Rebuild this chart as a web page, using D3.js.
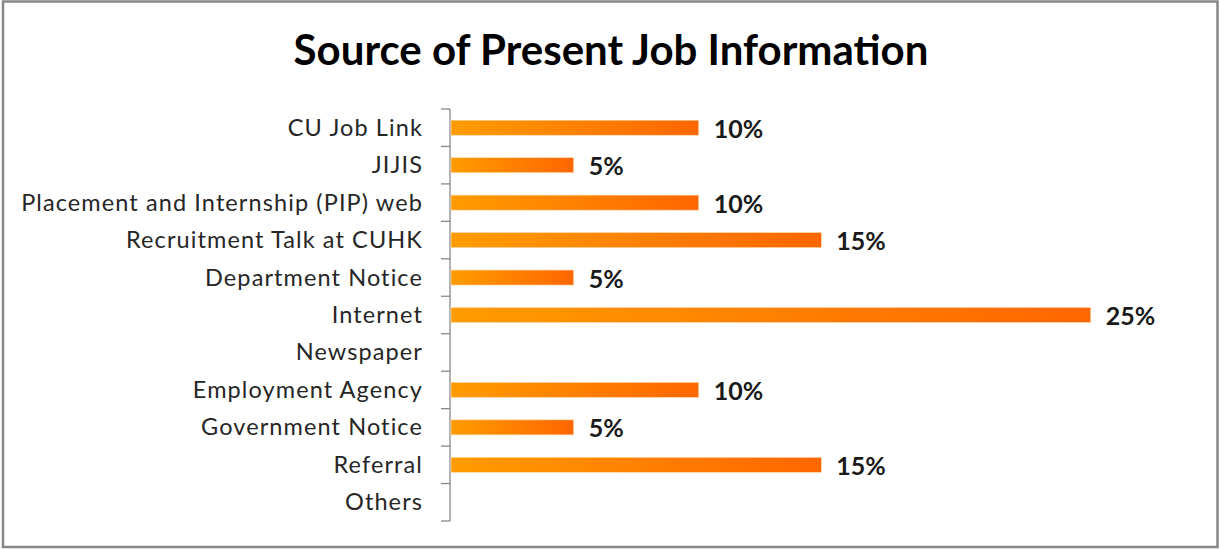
<!DOCTYPE html>
<html><head><meta charset="utf-8">
<script src="https://cdn.jsdelivr.net/npm/d3@7"></script>
<style>html,body{margin:0;padding:0;background:#fff;}svg{display:block;}</style>
</head><body>
<svg id="c" width="1220" height="549"></svg>
<script>
const categories = ["CU Job Link","JIJIS","Placement and Internship (PIP) web","Recruitment Talk at CUHK","Department Notice","Internet","Newspaper","Employment Agency","Government Notice","Referral","Others"];
const values = [10.3,5.1,10.3,15.4,5.1,26.6,0,10.3,5.1,15.4,0];
const valueLabels = ["10%","5%","10%","15%","5%","25%","","10%","5%","15%",""];
const title = "Source of Present Job Information";

const svg = d3.select("#c");
const font = "Lato, 'Open Sans', sans-serif";

svg.append("rect").attr("x",3).attr("y",1.5).attr("width",1214.5).attr("height",545.5)
  .attr("fill","#fff").attr("stroke","#888").attr("stroke-width",2.5);

const defs = svg.append("defs");
const g = defs.append("linearGradient").attr("id","grad").attr("x1","0").attr("x2","1").attr("y1","0").attr("y2","0");
g.append("stop").attr("offset","0%").attr("stop-color","#FF9C00");
g.append("stop").attr("offset","100%").attr("stop-color","#FF6600");

svg.append("text").attr("x",611).attr("y",65).attr("text-anchor","middle")
  .attr("font-family",font).attr("font-weight","bold").attr("font-size",42)
  .attr("fill","#000").text(title);

const x = d3.scaleLinear().domain([0,30]).range([451,451+721.5]);
const yb = d3.scaleBand().domain(categories).range([109,521]);

const axis = svg.append("g").attr("transform","translate(450,0)");
axis.append("line").attr("x1",0).attr("x2",0).attr("y1",109).attr("y2",521).attr("stroke","#888").attr("stroke-width",1.3);
const bounds = categories.map(c=>yb(c)).concat([521]);
axis.selectAll("line.t").data(bounds).join("line").attr("class","t")
  .attr("x1",-9).attr("x2",0).attr("y1",d=>d).attr("y2",d=>d).attr("stroke","#888").attr("stroke-width",1.3);

svg.selectAll("text.cat").data(categories).join("text").attr("class","cat")
  .attr("x",423).attr("y",d=>yb(d)+yb.bandwidth()/2+8).attr("text-anchor","end")
  .attr("font-family",font).attr("font-size",23.5).attr("letter-spacing",1.1).attr("fill","#262626").text(d=>d);

const rows = categories.map((c,i)=>({c,v:values[i],l:valueLabels[i]})).filter(d=>d.v>0);
svg.selectAll("rect.bar").data(rows)
  .join("rect").attr("class","bar")
  .attr("x",x(0)).attr("y",d=>yb(d.c)+yb.bandwidth()/2-7.5).attr("height",15)
  .attr("width",d=>x(d.v)-x(0)).attr("fill","url(#grad)").attr("stroke","#FFD9A8").attr("stroke-width",0.6);

svg.selectAll("text.val").data(rows)
  .join("text").attr("class","val")
  .attr("x",d=>x(d.v)+15).attr("y",d=>yb(d.c)+yb.bandwidth()/2+10)
  .attr("font-family",font).attr("font-weight","bold").attr("font-size",25).attr("fill","#1a1a1a").text(d=>d.l);
</script>
</body></html>
